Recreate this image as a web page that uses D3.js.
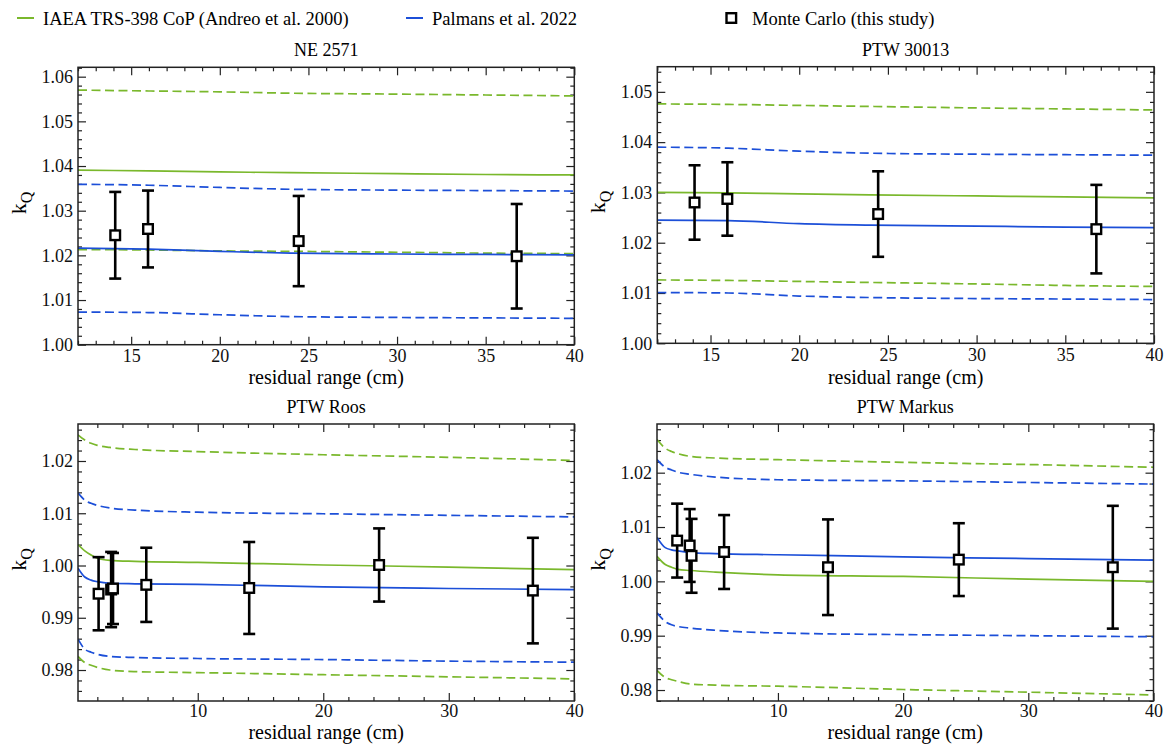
<!DOCTYPE html>
<html>
<head>
<meta charset="utf-8">
<script src="https://cdn.jsdelivr.net/npm/d3@7"></script>
<style>
  body { margin: 0; background: #fff; }
  svg text { font-family: "Liberation Serif", serif; }
  .tick line { stroke: #222; stroke-width: 1.2; }
</style>
</head>
<body>
<svg id="chart" width="1169" height="744"></svg>
<script>
// legend labels and panel titles
var legendLabels = ["IAEA TRS-398 CoP (Andreo et al. 2000)", "Palmans et al. 2022", "Monte Carlo (this study)"];
var panelNames = ["NE 2571", "PTW 30013", "PTW Roos", "PTW Markus"];

// sample points of the curves (residual range, cm)
var farmerX = [12, 16, 20, 24, 30, 35, 40];
var roosX = [0.46, 1, 1.5, 2, 3, 5, 10, 20, 30, 40];
var markusX = [0.34, 1, 1.5, 2, 3, 5, 10, 20, 30, 40];

// NE 2571
var ne_trsMid = [1.0391, 1.0389, 1.0387, 1.0385, 1.0383, 1.0381, 1.0380];
var ne_trsHi  = [1.0570, 1.0568, 1.0566, 1.0563, 1.0561, 1.0559, 1.0557];
var ne_trsLo  = [1.0213, 1.0212, 1.0210, 1.0209, 1.0207, 1.0205, 1.0204];
var ne_palMid = [1.0216, 1.0214, 1.0209, 1.0205, 1.0203, 1.0202, 1.0201];
var ne_palHi  = [1.0359, 1.0357, 1.0352, 1.0348, 1.0346, 1.0345, 1.0344];
var ne_palLo  = [1.0073, 1.0072, 1.0067, 1.0063, 1.0061, 1.0060, 1.0059];
var ne_mcX = [14.1, 15.95, 24.45, 36.75];
var ne_mcK = [1.0245, 1.0259, 1.0232, 1.0198];
var ne_mcU = [0.0097, 0.0086, 0.0101, 0.0117];

// PTW 30013
var p30_trsMid = [1.0300, 1.0299, 1.0297, 1.0295, 1.0293, 1.0291, 1.0289];
var p30_trsHi  = [1.0476, 1.0475, 1.0473, 1.0471, 1.0468, 1.0466, 1.0464];
var p30_trsLo  = [1.0126, 1.0125, 1.0123, 1.0121, 1.0118, 1.0115, 1.0113];
var p30_palMid = [1.0245, 1.0244, 1.0238, 1.0235, 1.0233, 1.0231, 1.0230];
var p30_palHi  = [1.0390, 1.0388, 1.0382, 1.0378, 1.0376, 1.0375, 1.0374];
var p30_palLo  = [1.0101, 1.0100, 1.0094, 1.0091, 1.0089, 1.0088, 1.0087];
var p30_mcX = [14.1, 15.95, 24.45, 36.75];
var p30_mcK = [1.0280, 1.0287, 1.0257, 1.0227];
var p30_mcU = [0.0074, 0.0073, 0.0085, 0.0088];

// PTW Roos
var roos_trsMid = [1.0040, 1.0028, 1.0020, 1.0014, 1.0010, 1.0008, 1.0006, 1.0001, 0.9997, 0.9992];
var roos_trsHi  = [1.0250, 1.0240, 1.0234, 1.0230, 1.0226, 1.0222, 1.0218, 1.0212, 1.0207, 1.0201];
var roos_trsLo  = [0.9826, 0.9814, 0.9809, 0.9805, 0.9800, 0.9797, 0.9795, 0.9791, 0.9787, 0.9783];
var roos_palMid = [0.9995, 0.9978, 0.9972, 0.9969, 0.9966, 0.9965, 0.9964, 0.9959, 0.9956, 0.9954];
var roos_palHi  = [1.0139, 1.0125, 1.0119, 1.0115, 1.0110, 1.0106, 1.0102, 1.0099, 1.0096, 1.0093];
var roos_palLo  = [0.9859, 0.9840, 0.9834, 0.9830, 0.9826, 0.9824, 0.9822, 0.9820, 0.9817, 0.9815];
var roos_mcX = [2.1, 3.1, 3.25, 5.9, 14.1, 24.45, 36.7];
var roos_mcK = [0.9946, 0.9954, 0.9956, 0.9963, 0.9957, 1.0001, 0.9952];
var roos_mcU = [0.0070, 0.0072, 0.0068, 0.0071, 0.0088, 0.0070, 0.0101];

// PTW Markus
var markus_trsMid = [1.0046, 1.0031, 1.0026, 1.0022, 1.0020, 1.0017, 1.0012, 1.0009, 1.0004, 1.0000];
var markus_trsHi  = [1.0261, 1.0245, 1.0239, 1.0235, 1.0230, 1.0227, 1.0224, 1.0219, 1.0215, 1.0210];
var markus_trsLo  = [0.9836, 0.9823, 0.9819, 0.9816, 0.9811, 0.9809, 0.9807, 0.9801, 0.9796, 0.9791];
var markus_palMid = [1.0081, 1.0062, 1.0058, 1.0056, 1.0053, 1.0051, 1.0049, 1.0045, 1.0042, 1.0039];
var markus_palHi  = [1.0224, 1.0210, 1.0205, 1.0201, 1.0197, 1.0192, 1.0187, 1.0185, 1.0182, 1.0179];
var markus_palLo  = [0.9942, 0.9926, 0.9920, 0.9917, 0.9914, 0.9910, 0.9905, 0.9902, 0.9900, 0.9898];
var markus_mcX = [1.95, 2.95, 3.1, 5.7, 14.0, 24.45, 36.75];
var markus_mcK = [1.0075, 1.0066, 1.0047, 1.0054, 1.0026, 1.0040, 1.0026];
var markus_mcU = [0.0068, 0.0067, 0.0068, 0.0068, 0.0088, 0.0067, 0.0113];

var green = "#7ab82c", blue = "#1c4fd8";
var serif = "'Liberation Serif', serif";

var panels = [
  {name: panelNames[0], x: farmerX, trs: [ne_trsMid, ne_trsHi, ne_trsLo], pal: [ne_palMid, ne_palHi, ne_palLo],
   mc: [ne_mcX, ne_mcK, ne_mcU], box: [78, 67.3, 574.3, 344.7], xd: [12, 40], yd: [1.00, 1.0621],
   xMajor: [15, 20, 25, 30, 35, 40], xMinorStep: 1, pad: 5, labelY: 384.2},
  {name: panelNames[1], x: farmerX, trs: [p30_trsMid, p30_trsHi, p30_trsLo], pal: [p30_palMid, p30_palHi, p30_palLo],
   mc: [p30_mcX, p30_mcK, p30_mcU], box: [657.3, 66.7, 1154, 343.3], xd: [12, 40], yd: [1.00, 1.055],
   xMajor: [15, 20, 25, 30, 35, 40], xMinorStep: 1, pad: 5, labelY: 384.2},
  {name: panelNames[2], x: roosX, trs: [roos_trsMid, roos_trsHi, roos_trsLo], pal: [roos_palMid, roos_palHi, roos_palLo],
   mc: [roos_mcX, roos_mcK, roos_mcU], box: [78, 424, 574.3, 701], xd: [0.46, 40], yd: [0.97407, 1.02708],
   xMajor: [10, 20, 30, 40], xMinorStep: 2, pad: 3, labelY: 739},
  {name: panelNames[3], x: markusX, trs: [markus_trsMid, markus_trsHi, markus_trsLo], pal: [markus_palMid, markus_palHi, markus_palLo],
   mc: [markus_mcX, markus_mcK, markus_mcU], box: [657, 424, 1153.5, 701], xd: [0.34, 40], yd: [0.97798, 1.02896],
   xMajor: [10, 20, 30, 40], xMinorStep: 2, pad: 3, labelY: 739}
];

var svg = d3.select("#chart");

function styleAxis(sel){
  sel.attr("font-family", serif).attr("font-size", 18);
  sel.selectAll(".tick text").style("font-family", serif).style("font-size", "18px").attr("fill", "#111");
  sel.select(".domain").remove();
}

panels.forEach(function(p){
  var L = p.box[0], T = p.box[1], R = p.box[2], B = p.box[3];
  var xScale = d3.scaleLinear().domain(p.xd).range([L, R]);
  var yScale = d3.scaleLinear().domain(p.yd).range([B, T]);
  var g = svg.append("g");

  var xMinor = d3.range(Math.ceil(p.xd[0] / p.xMinorStep), Math.floor(p.xd[1] / p.xMinorStep) + 1)
                 .map(function(i){ return i * p.xMinorStep; })
                 .filter(function(v){ return p.xMajor.indexOf(v) < 0; });
  var yMajor = d3.range(Math.ceil(p.yd[0] * 100 - 1e-6), Math.floor(p.yd[1] * 100 + 1e-6) + 1)
                 .map(function(i){ return i / 100; });
  var yMinor = d3.range(Math.ceil(p.yd[0] * 500 - 1e-6), Math.floor(p.yd[1] * 500 + 1e-6) + 1)
                 .filter(function(i){ return i % 5 != 0; })
                 .map(function(i){ return i / 500; });

  // axes with inward ticks
  g.append("g").attr("transform", "translate(0," + B + ")")
    .call(d3.axisBottom(xScale).tickValues(p.xMajor).tickSize(-8).tickPadding(p.pad).tickFormat(d3.format("d")))
    .call(styleAxis);
  g.append("g").attr("transform", "translate(0," + B + ")")
    .call(d3.axisBottom(xScale).tickValues(xMinor).tickSize(-4).tickFormat("")).call(styleAxis);
  g.append("g").attr("transform", "translate(0," + T + ")")
    .call(d3.axisTop(xScale).tickValues(p.xMajor).tickSize(-8).tickFormat("")).call(styleAxis);
  g.append("g").attr("transform", "translate(0," + T + ")")
    .call(d3.axisTop(xScale).tickValues(xMinor).tickSize(-4).tickFormat("")).call(styleAxis);
  g.append("g").attr("transform", "translate(" + L + ",0)")
    .call(d3.axisLeft(yScale).tickValues(yMajor).tickSize(-8).tickPadding(5).tickFormat(d3.format(".2f")))
    .call(styleAxis);
  g.append("g").attr("transform", "translate(" + L + ",0)")
    .call(d3.axisLeft(yScale).tickValues(yMinor).tickSize(-4).tickFormat("")).call(styleAxis);
  g.append("g").attr("transform", "translate(" + R + ",0)")
    .call(d3.axisRight(yScale).tickValues(yMajor).tickSize(-8).tickFormat("")).call(styleAxis);
  g.append("g").attr("transform", "translate(" + R + ",0)")
    .call(d3.axisRight(yScale).tickValues(yMinor).tickSize(-4).tickFormat("")).call(styleAxis);

  // curves
  var line = d3.line().curve(d3.curveMonotoneX)
               .x(function(d){ return xScale(d[0]); })
               .y(function(d){ return yScale(d[1]); });
  var series = [
    [p.trs[1], green, "9,4.5"], [p.trs[2], green, "9,4.5"],
    [p.pal[1], blue, "9,4.5"], [p.pal[2], blue, "9,4.5"],
    [p.trs[0], green, null], [p.pal[0], blue, null]
  ];
  var clipId = "clip" + panelNames.indexOf(p.name);
  svg.append("clipPath").attr("id", clipId).append("rect")
     .attr("x", L).attr("y", T).attr("width", R - L).attr("height", B - T);
  var cg = g.append("g").attr("clip-path", "url(#" + clipId + ")");
  series.forEach(function(s){
    cg.append("path")
      .datum(p.x.map(function(v, i){ return [v, s[0][i]]; }))
      .attr("d", line)
      .attr("fill", "none")
      .attr("stroke", s[1])
      .attr("stroke-width", 1.7)
      .attr("stroke-dasharray", s[2]);
  });

  // Monte Carlo points with error bars
  var mc = p.mc[0].map(function(v, i){ return {x: v, k: p.mc[1][i], u: p.mc[2][i]}; });
  var eb = g.selectAll("g.eb").data(mc).enter().append("g").attr("class", "eb")
            .attr("stroke", "#000").attr("stroke-width", 2.6);
  eb.append("line")
    .attr("x1", function(d){ return xScale(d.x); }).attr("x2", function(d){ return xScale(d.x); })
    .attr("y1", function(d){ return yScale(d.k + d.u); }).attr("y2", function(d){ return yScale(d.k - d.u); });
  eb.append("line")
    .attr("x1", function(d){ return xScale(d.x) - 6; }).attr("x2", function(d){ return xScale(d.x) + 6; })
    .attr("y1", function(d){ return yScale(d.k + d.u); }).attr("y2", function(d){ return yScale(d.k + d.u); });
  eb.append("line")
    .attr("x1", function(d){ return xScale(d.x) - 6; }).attr("x2", function(d){ return xScale(d.x) + 6; })
    .attr("y1", function(d){ return yScale(d.k - d.u); }).attr("y2", function(d){ return yScale(d.k - d.u); });
  g.selectAll("rect.mc").data(mc).enter().append("rect").attr("class", "mc")
    .attr("x", function(d){ return xScale(d.x) - 4.8; })
    .attr("y", function(d){ return yScale(d.k) - 4.8; })
    .attr("width", 9.6).attr("height", 9.6)
    .attr("fill", "#fff").attr("stroke", "#000").attr("stroke-width", 2.4);

  // frame
  g.append("rect").attr("x", L).attr("y", T).attr("width", R - L).attr("height", B - T)
    .attr("fill", "none").attr("stroke", "#222").attr("stroke-width", 1.5);

  // title and labels
  g.append("text").attr("x", (L + R) / 2).attr("y", T - 11).attr("text-anchor", "middle")
    .style("font-size", "18px").text(p.name);
  g.append("text").attr("x", (L + R) / 2).attr("y", p.labelY).attr("text-anchor", "middle")
    .style("font-size", "20px").text("residual range (cm)");
  var yl = g.append("text")
    .attr("transform", "translate(" + (L - 52) + "," + ((T + B) / 2 - 3) + ") rotate(-90)")
    .attr("text-anchor", "middle").style("font-size", "22px");
  yl.append("tspan").text("k");
  yl.append("tspan").attr("dy", 6).style("font-size", "16px").text("Q");
});

// legend
var lg = svg.append("g");
lg.append("line").attr("x1", 17).attr("x2", 34).attr("y1", 18).attr("y2", 18)
  .attr("stroke", green).attr("stroke-width", 2);
lg.append("text").attr("x", 43).attr("y", 24.5).style("font-size", "18.5px").text(legendLabels[0]);
lg.append("line").attr("x1", 406).attr("x2", 423).attr("y1", 18).attr("y2", 18)
  .attr("stroke", blue).attr("stroke-width", 2);
lg.append("text").attr("x", 432).attr("y", 24.5).style("font-size", "18.5px").text(legendLabels[1]);
lg.append("rect").attr("x", 726.5).attr("y", 13.2).attr("width", 9.6).attr("height", 9.6)
  .attr("fill", "#fff").attr("stroke", "#000").attr("stroke-width", 2.4);
lg.append("text").attr("x", 752).attr("y", 24.5).style("font-size", "18.5px").text(legendLabels[2]);
</script>
</body>
</html>
